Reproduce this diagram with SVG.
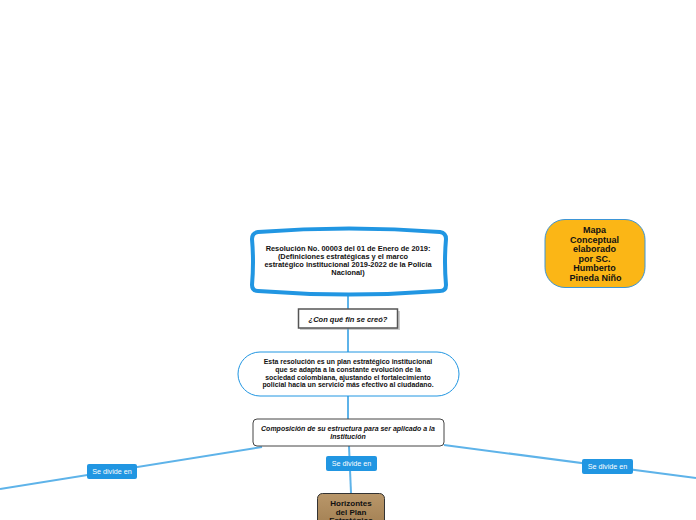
<svg xmlns="http://www.w3.org/2000/svg" width="696" height="520" viewBox="0 0 696 520">
<style>
text{font-family:"Liberation Sans",Arial,sans-serif;text-anchor:middle;fill:#111}
.b{font-weight:bold}
.bi{font-weight:bold;font-style:italic}
.conn{stroke:#5eb3e9;stroke-width:2;fill:none}
.lbl{fill:#2196e2}
.lt{fill:#fff;font-size:7.2px}
</style>
<defs>
<linearGradient id="brown" x1="0" y1="0" x2="0" y2="1">
<stop offset="0" stop-color="#b9976a"/>
<stop offset="1" stop-color="#9e7b4e"/>
</linearGradient>
</defs>
<rect width="696" height="520" fill="#fff"/>
<g id="connectors">
<line class="conn" x1="348" y1="293" x2="348" y2="309"/>
<line class="conn" x1="348" y1="328" x2="348" y2="352"/>
<line class="conn" x1="348" y1="396" x2="348" y2="419"/>
<line class="conn" x1="349" y1="446" x2="351" y2="493"/>
<line class="conn" x1="262" y1="447" x2="0" y2="489"/>
<line class="conn" x1="444" y1="445" x2="696" y2="478"/>
<g id="label-center"><rect class="lbl" x="326" y="456" width="51" height="15" rx="2"/><text class="lt" x="351.5" y="466.2">Se divide en</text></g>
<g id="label-left"><rect class="lbl" x="87" y="464" width="50" height="15" rx="2"/><text class="lt" x="112" y="474.2">Se divide en</text></g>
<g id="label-right"><rect class="lbl" x="582" y="459" width="51" height="15" rx="2"/><text class="lt" x="607.5" y="469.2">Se divide en</text></g>
</g>
<g id="node-resolucion">
<path d="M258,232 Q349,225 440,232 Q446,233 446,239 Q444,262 446,285 Q446,291 440,291 Q349,298 258,291 Q252,291 252,285 Q254,262 252,239 Q252,233 258,232 Z" fill="#fff" stroke="#2196e2" stroke-width="4"/>
<text class="b" font-size="7.4" x="348" y="251">Resolución No. 00003 del 01 de Enero de 2019:</text>
<text class="b" font-size="7.4" x="343" y="258.5">(Definiciones estratégicas y el marco</text>
<text class="b" font-size="7.4" x="348" y="267">estratégico institucional 2019-2022 de la Policía</text>
<text class="b" font-size="7.4" x="348" y="275">Nacional)</text>
</g>
<g id="node-fin">
<rect x="300" y="311" width="100" height="19" fill="#999" opacity="0.5"/>
<rect x="298.5" y="309" width="99" height="19" fill="#fff" stroke="#555" stroke-width="1.5"/>
<text class="bi" font-size="7.5" x="348" y="321.5">¿Con qué fin se creó?</text>
</g>
<g id="node-plan">
<rect x="238" y="352" width="221" height="44" rx="22" fill="#fff" stroke="#2196e2" stroke-width="1"/>
<text class="b" font-size="6.9" x="348" y="364">Esta resolución es un plan estratégico institucional</text>
<text class="b" font-size="6.9" x="348" y="371.7">que se adapta a la constante evolución de la</text>
<text class="b" font-size="6.9" x="348" y="379.5">sociedad colombiana, ajustando el fortalecimiento</text>
<text class="b" font-size="6.9" x="348" y="387.2">policial hacia un servicio más efectivo al ciudadano.</text>
</g>
<g id="node-composicion">
<rect x="253" y="419" width="191" height="27" rx="4" fill="#fff" stroke="#444" stroke-width="1"/>
<text class="bi" font-size="7" x="348" y="430.5">Composición de su estructura para ser aplicado a la</text>
<text class="bi" font-size="7" x="348" y="438.5">Institución</text>
</g>
<g id="node-horizontes">
<rect x="317.5" y="493.5" width="67" height="40" rx="5" fill="url(#brown)" stroke="#333" stroke-width="1"/>
<text class="b" font-size="8" x="351" y="506">Horizontes</text>
<text class="b" font-size="8" x="351" y="514.5">del Plan</text>
<text class="b" font-size="8" x="351" y="523">Estratégico</text>
</g>
<g id="node-mapa">
<rect x="545" y="219.5" width="100" height="68" rx="20" fill="#fbb616" stroke="#3d95d6" stroke-width="1"/>
<text class="b" font-size="9" x="594.5" y="232.5">Mapa</text>
<text class="b" font-size="9" x="594.5" y="242.5">Conceptual</text>
<text class="b" font-size="9" x="594.5" y="252">elaborado</text>
<text class="b" font-size="9" x="594.5" y="261.5">por SC.</text>
<text class="b" font-size="9" x="594.5" y="271">Humberto</text>
<text class="b" font-size="9" x="595.5" y="280.5">Pineda Niño</text>
</g>
</svg>
